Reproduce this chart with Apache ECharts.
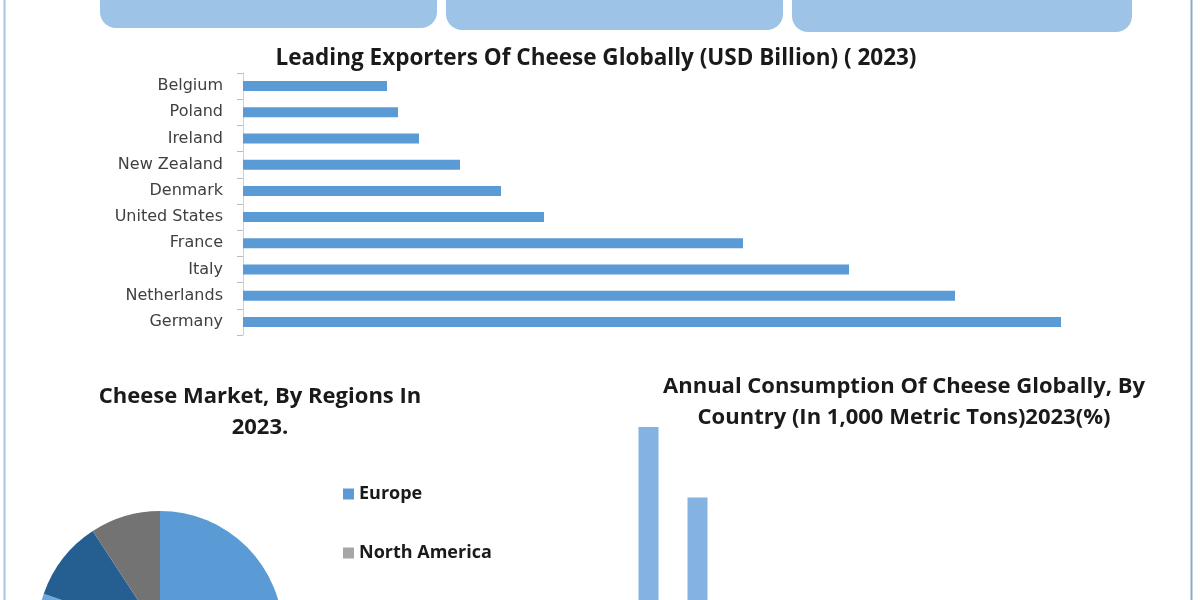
<!DOCTYPE html>
<html>
<head>
<meta charset="utf-8">
<script src="https://cdn.jsdelivr.net/npm/echarts@6/dist/echarts.min.js"></script>
<style>
  html, body { margin: 0; padding: 0; background: #fff; }
  #chart { width: 1200px; height: 600px; }
</style>
</head>
<body>
<div id="chart"></div>
<script>
// 出口国数据（USD Billion）
const exportCountries = ['Belgium', 'Poland', 'Ireland', 'New Zealand', 'Denmark', 'United States', 'France', 'Italy', 'Netherlands', 'Germany'];
const exportValues = [1.44, 1.55, 1.76, 2.17, 2.58, 3.01, 5.0, 6.06, 7.12, 8.18];

// 地区份额（%）
const regionNames = ['Europe', 'Asia Pacific', 'South America', 'Middle East & Africa', 'North America'];
const regionValues = [39, 25, 16.3, 10.5, 9.2];
const legendOrder = ['Europe', 'North America', 'Asia Pacific', 'South America', 'Middle East & Africa'];

// 消费量（%）
const consumeCountries = ['United States', 'Germany'];
const consumeValues = [27, 16];

const titleFont = "'Open Sans', 'Noto Sans', sans-serif";
const labelFont = "'DejaVu Sans', sans-serif";

const regionColors = {
    'Europe': '#5b9bd5',
    'Asia Pacific': '#9dc3e6',
    'South America': '#6fa8dc',
    'Middle East & Africa': '#255e91',
    'North America': '#737373'
};

var myChart = echarts.init(document.getElementById('chart'));

var option = {
    animation: false,
    title: [
        {
            text: 'Leading Exporters Of Cheese Globally (USD Billion) ( 2023)',
            left: 591, top: 41, textAlign: 'center',
            textStyle: { fontFamily: titleFont, fontWeight: 'bold', fontSize: 22.5, lineHeight: 26, color: '#1a1a1a' }
        },
        {
            text: 'Cheese Market, By Regions In\n2023.',
            left: 255, top: 376, textAlign: 'center',
            textStyle: { fontFamily: titleFont, fontWeight: 'bold', fontSize: 22, lineHeight: 31, color: '#1a1a1a' }
        },
        {
            text: 'Annual Consumption Of Cheese Globally, By\nCountry (In 1,000 Metric Tons)2023(%)',
            left: 899, top: 366, textAlign: 'center',
            textStyle: { fontFamily: titleFont, fontWeight: 'bold', fontSize: 22, lineHeight: 31, color: '#1a1a1a' }
        }
    ],
    legend: {
        orient: 'vertical',
        left: 338, top: 480, height: 500,
        itemWidth: 11, itemHeight: 11, itemGap: 41,
        icon: 'rect',
        textStyle: { fontFamily: titleFont, fontWeight: 'bold', fontSize: 18, color: '#1a1a1a' },
        data: legendOrder.map(n => ({
            name: n,
            itemStyle: n === 'North America' ? { color: '#a6a6a6' } : undefined
        }))
    },
    graphic: [
        // 顶部三个圆角框
        { type: 'rect', shape: { x: 100, y: -40, width: 337, height: 68, r: 16 }, style: { fill: '#9dc3e6' } },
        { type: 'rect', shape: { x: 446, y: -40, width: 337, height: 70, r: 16 }, style: { fill: '#9dc3e6' } },
        { type: 'rect', shape: { x: 792, y: -40, width: 340, height: 72, r: 16 }, style: { fill: '#9dc3e6' } },
        // 左右边框线
        { type: 'line', shape: { x1: 4.5, y1: 0, x2: 4.5, y2: 600 }, style: { stroke: '#a9c4e0', lineWidth: 2 } },
        { type: 'line', shape: { x1: 1191.5, y1: 0, x2: 1191.5, y2: 600 }, style: { stroke: '#8fa9c4', lineWidth: 2 } }
    ],
    grid: [
        { left: 243, top: 73, width: 900, height: 262 },
        { left: 624, top: 427, width: 98, bottom: 0 }
    ],
    xAxis: [
        { gridIndex: 0, type: 'value', min: 0, max: 9, show: false },
        {
            gridIndex: 1, type: 'category', data: consumeCountries,
            axisLine: { show: false }, axisTick: { show: false }, axisLabel: { show: false }
        }
    ],
    yAxis: [
        {
            gridIndex: 0, type: 'category', data: exportCountries, inverse: true,
            axisLine: { lineStyle: { color: '#d0d0d0' } },
            axisTick: { show: true, length: 6, lineStyle: { color: '#bdbdbd' } },
            axisLabel: { fontFamily: labelFont, fontSize: 16, color: '#404040', margin: 20 }
        },
        { gridIndex: 1, type: 'value', min: 0, max: 27, show: false }
    ],
    series: [
        {
            name: 'Export',
            type: 'bar',
            xAxisIndex: 0, yAxisIndex: 0,
            data: exportValues,
            barWidth: 10,
            itemStyle: { color: '#5b9bd5' }
        },
        {
            name: 'Consumption',
            type: 'bar',
            xAxisIndex: 1, yAxisIndex: 1,
            data: consumeValues,
            barWidth: 20,
            itemStyle: { color: '#84b3e2' }
        },
        {
            name: 'Regions',
            type: 'pie',
            center: [160, 634],
            radius: 123,
            startAngle: 90,
            clockwise: true,
            label: { show: false },
            labelLine: { show: false },
            data: regionNames.map((n, i) => ({
                name: n,
                value: regionValues[i],
                itemStyle: { color: regionColors[n] }
            }))
        }
    ]
};

myChart.setOption(option);
</script>
</body>
</html>
